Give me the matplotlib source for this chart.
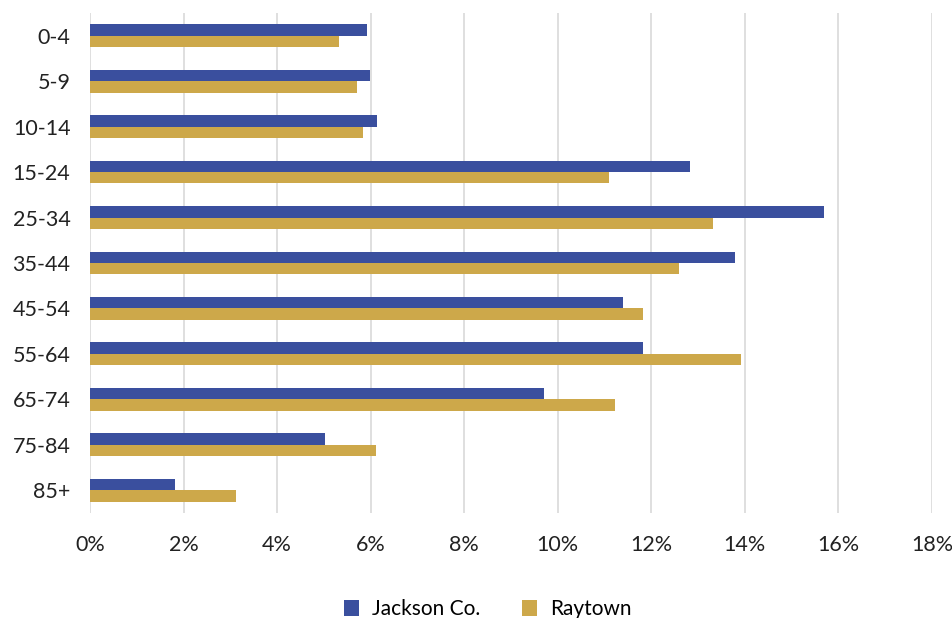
import numpy as np
import matplotlib.pyplot as plt
from matplotlib.ticker import PercentFormatter

plt.rcParams['font.family'] = ['Lato', 'DejaVu Sans']

# Data
age_groups = ['0-4', '5-9', '10-14', '15-24', '25-34', '35-44',
              '45-54', '55-64', '65-74', '75-84', '85+']
jackson = [5.92, 5.98, 6.13, 12.82, 15.70, 13.78, 11.39, 11.82, 9.70, 5.02, 1.82]
raytown = [5.32, 5.70, 5.83, 11.09, 13.31, 12.60, 11.82, 13.91, 11.22, 6.11, 3.12]

fig = plt.figure(figsize=(9.53, 6.18), dpi=100)
ax = fig.add_axes([0.0944, 0.170, 0.8836, 0.809])

y = np.arange(len(age_groups))
h = 0.25
ax.barh(y - h / 2, jackson, height=h, color='#3a4f9e', label='Jackson Co.', zorder=3)
ax.barh(y + h / 2, raytown, height=h, color='#cda84a', label='Raytown', zorder=3)

ax.set_xlim(0, 18)
ax.set_ylim(len(age_groups) - 0.5, -0.5)
ax.set_xticks(np.arange(0, 19, 2))
ax.xaxis.set_major_formatter(PercentFormatter(decimals=0))
ax.set_yticks(y)
ax.set_yticklabels(age_groups)

ax.grid(axis='x', color='#d9d9d9', linewidth=1.2, zorder=0)
for s in ax.spines.values():
    s.set_visible(False)
ax.tick_params(length=0, labelsize=15.5, colors='#222222')
ax.tick_params(axis='x', pad=16)
ax.tick_params(axis='y', pad=14)

ax.legend(loc='upper center', bbox_to_anchor=(0.472, -0.135), ncol=2, frameon=False,
          fontsize=15, handlelength=0.75, handleheight=0.75, columnspacing=2.0,
          handletextpad=0.6)

plt.savefig('out.png')
